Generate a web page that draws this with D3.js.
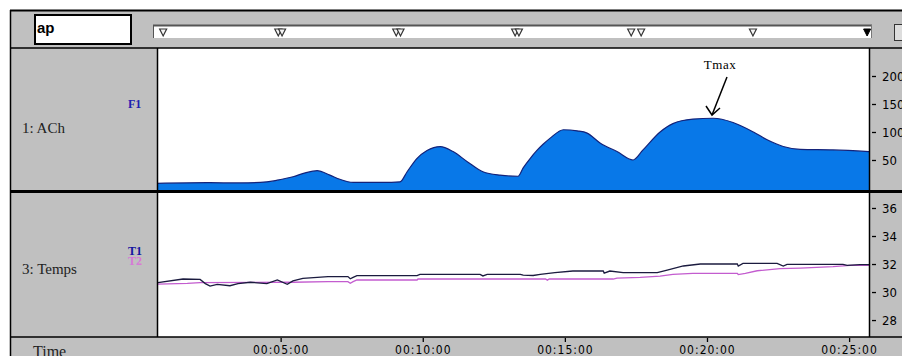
<!DOCTYPE html>
<html><head><meta charset="utf-8">
<script src="https://cdn.jsdelivr.net/npm/d3@7"></script>
<style>body{margin:0;background:#fff}svg{display:block}</style>
</head><body><svg id="c" width="902" height="356"></svg>
<script>
// ---- data ----
const achTime  = [39,145,215,271,293,326,352,377,404,425,453,516,552,567,588,609,637,664,694,727,763,801,812,827,841,854,869,897,926,947,975,1010,1044,1065,1101,1128,1170,1213,1255,1298,1327,1361,1397,1466,1542];
const achValue = [8.4,9.5,9,11,14,20,27,31,23,15.5,10,10,11,29,53,67,74,65,47,29,23,21,36,53,67,78,89,104,102,98,80,65,50,68,100,115,123,124.5,117,100,86,74,69,68,65];

const t1Time  = [41,94,130,141,151,166,193,210,236,271,293,314,326,347,400,442,447,453,461,588,594,721,727,736,806,812,833,848,879,917,981,983,995,1023,1095,1116,1150,1186,1264,1266,1276,1348,1361,1369,1487,1496,1523,1542];
const t1Value = [30.67,30.93,30.9,30.6,30.43,30.55,30.45,30.6,30.7,30.6,30.86,30.55,30.8,30.98,31.1,31.1,30.95,31.05,31.17,31.17,31.26,31.26,31.15,31.26,31.26,31.2,31.18,31.26,31.38,31.5,31.5,31.35,31.5,31.38,31.38,31.57,31.86,32.0,32.0,31.86,32.05,32.05,31.86,31.98,31.98,31.9,31.95,31.95];

const t2Time  = [41,103,130,326,400,442,447,453,461,588,590,859,863,867,1002,1010,1059,1101,1128,1170,1264,1266,1281,1306,1354,1397,1466,1502,1542];
const t2Value = [30.57,30.62,30.67,30.7,30.74,30.74,30.62,30.74,30.86,30.86,30.93,30.93,30.85,30.93,30.93,31.0,31.05,31.14,31.26,31.33,31.33,31.25,31.33,31.52,31.67,31.71,31.81,31.9,31.9];

const achTicks  = [50,100,150,200];
const tempTicks = [28,30,32,34,36];
const timeTicks = [300,600,900,1200,1500];
const markerTime = [52,295,303,544,553,795,803,1040,1061,1297];
const cursorTime = [1538];

// ---- scales ----
const svg = d3.select('#c');
const x  = d3.scaleLinear().domain([39,1542]).range([157,869]);
const yA = d3.scaleLinear().domain([-3.6,250]).range([190,48]);
const yT = d3.scaleLinear().domain([26.79,37.07]).range([337,193]);
const GRAY = '#c0c0c0';
const NARROW = "'Liberation Sans Narrow','DejaVu Sans Condensed',sans-serif";
const SERIF = "'Liberation Serif','DejaVu Serif',serif";

// ---- backgrounds ----
svg.append('rect').attr('x',10).attr('y',10).attr('width',892).attr('height',38).attr('fill',GRAY);
svg.append('rect').attr('x',10).attr('y',48).attr('width',147).attr('height',289).attr('fill',GRAY);
svg.append('rect').attr('x',157).attr('y',48).attr('width',712).attr('height',289).attr('fill','#fff');
svg.append('rect').attr('x',869).attr('y',48).attr('width',33).attr('height',289).attr('fill',GRAY);
svg.append('rect').attr('x',10).attr('y',337).attr('width',892).attr('height',19).attr('fill',GRAY);

// ---- toolbar ----
svg.append('rect').attr('x',35).attr('y',15).attr('width',96).attr('height',29)
  .attr('fill','#fff').attr('stroke','#000').attr('stroke-width',2);
svg.append('text').attr('x',37).attr('y',33).text('ap')
  .attr('font-family',"'Liberation Sans',Arial,sans-serif").attr('font-weight','bold').attr('font-size',15);
svg.append('rect').attr('x',153).attr('y',25).attr('width',719).attr('height',13).attr('fill','#fff');
svg.append('line').attr('x1',153).attr('x2',872).attr('y1',25.5).attr('y2',25.5).attr('stroke','#555').attr('stroke-width',2);
svg.append('line').attr('x1',153.5).attr('x2',153.5).attr('y1',25).attr('y2',38).attr('stroke','#555');
svg.append('line').attr('x1',871.5).attr('x2',871.5).attr('y1',25).attr('y2',38).attr('stroke','#777');
const tri = t => `M${x(t)-3.5},29 L${x(t)+3.5},29 L${x(t)},36 Z`;
svg.selectAll('path.mk').data(markerTime).join('path').attr('class','mk')
  .attr('d',tri).attr('fill','#f4f4f4').attr('stroke','#333').attr('stroke-width',1.2);
svg.selectAll('path.cur').data(cursorTime).join('path').attr('class','cur')
  .attr('d',tri).attr('fill','#000').attr('stroke','#000');
svg.append('rect').attr('x',894.5).attr('y',24.5).attr('width',10).attr('height',16)
  .attr('fill','#ddd').attr('stroke','#333');

// ---- plot 1: ACh area ----
const defs = svg.append('defs');
defs.append('clipPath').attr('id','cp1').append('rect').attr('x',157).attr('y',48).attr('width',712).attr('height',142);
defs.append('clipPath').attr('id','cp2').append('rect').attr('x',157).attr('y',193).attr('width',712).attr('height',144);
const achData = achTime.map((t,i)=>({t,v:achValue[i]}));
const g1 = svg.append('g').attr('clip-path','url(#cp1)');
g1.append('path').datum(achData)
  .attr('d', d3.area().x(d=>x(d.t)).y0(yA(-3.6)).y1(d=>yA(d.v)).curve(d3.curveMonotoneX))
  .attr('fill','#0878e8');
g1.append('path').datum(achData)
  .attr('d', d3.line().x(d=>x(d.t)).y(d=>yA(d.v)).curve(d3.curveMonotoneX))
  .attr('fill','none').attr('stroke','#14237a').attr('stroke-width',1.2);

// ---- plot 2: temps ----
const g2 = svg.append('g').attr('clip-path','url(#cp2)');
const t2Data = t2Time.map((t,i)=>({t,v:t2Value[i]}));
const t1Data = t1Time.map((t,i)=>({t,v:t1Value[i]}));
const tl = d3.line().x(d=>x(d.t)).y(d=>yT(d.v));
g2.append('path').datum(t2Data).attr('d',tl).attr('fill','none').attr('stroke','#c35ccf').attr('stroke-width',1.3);
g2.append('path').datum(t1Data).attr('d',tl).attr('fill','none').attr('stroke','#1b1b3f').attr('stroke-width',1.3);

// ---- axes ----
function styleAxis(g){
  g.select('.domain').remove();
  g.selectAll('.tick line').attr('stroke','#000').attr('stroke-width',1.3);
  g.selectAll('.tick text').attr('font-family',NARROW).attr('font-size',13).attr('fill','#000');
}
svg.append('g').attr('transform','translate(872,0)')
  .call(d3.axisRight(yA).tickValues(achTicks).tickSize(4).tickPadding(6)).call(styleAxis);
svg.append('g').attr('transform','translate(872,0)')
  .call(d3.axisRight(yT).tickValues(tempTicks).tickSize(4).tickPadding(6)).call(styleAxis);
const fmt = s => [Math.floor(s/3600),Math.floor(s/60)%60,s%60].map(n=>String(n).padStart(2,'0')).join(':');
svg.append('g').attr('transform','translate(0,338)')
  .call(d3.axisBottom(x).tickValues(timeTicks).tickFormat(fmt).tickSize(4).tickPadding(3))
  .call(styleAxis)
  .call(g=>g.selectAll('.tick text').attr('font-size',12).attr('letter-spacing',1));

// ---- frame lines ----
const L = (x1,y1,x2,y2,w,c='#000') => svg.append('line').attr('x1',x1).attr('y1',y1).attr('x2',x2).attr('y2',y2).attr('stroke',c).attr('stroke-width',w);
L(10,10.5,902,10.5,2);
L(10.5,10,10.5,356,1.5);
L(10,48,902,48,1.5);
L(157.5,48,157.5,337,1.5);
L(869.5,48,869.5,337,1.5);
L(10,191.5,902,191.5,3);
L(10,337,902,337,1.5);

// ---- labels ----
svg.append('text').attr('x',22).attr('y',133).text('1: ACh').attr('font-family',SERIF).attr('font-size',15).attr('fill','#222');
svg.append('text').attr('x',22).attr('y',274).text('3: Temps').attr('font-family',SERIF).attr('font-size',15).attr('fill','#222');
svg.append('text').attr('x',128).attr('y',108).text('F1').attr('font-family',SERIF).attr('font-weight','bold').attr('font-size',12).attr('fill','#2020b0');
svg.append('text').attr('x',128).attr('y',265).text('T2').attr('font-family',SERIF).attr('font-weight','bold').attr('font-size',12).attr('fill','#d77ad7');
svg.append('text').attr('x',128).attr('y',255).text('T1').attr('font-family',SERIF).attr('font-weight','bold').attr('font-size',12).attr('fill','#1414a0');
svg.append('text').attr('x',33).attr('y',357).text('Time').attr('font-family',SERIF).attr('font-size',16).attr('fill','#222');

// ---- Tmax annotation ----
svg.append('text').attr('x',720).attr('y',69).attr('text-anchor','middle').text('Tmax')
  .attr('font-family',SERIF).attr('font-size',13).attr('letter-spacing',0.5);
L(727,77,712,115,1.5);
svg.append('path').attr('d','M706,106 L712,115 L720,108').attr('fill','none').attr('stroke','#000').attr('stroke-width',1.5);
</script></body></html>
